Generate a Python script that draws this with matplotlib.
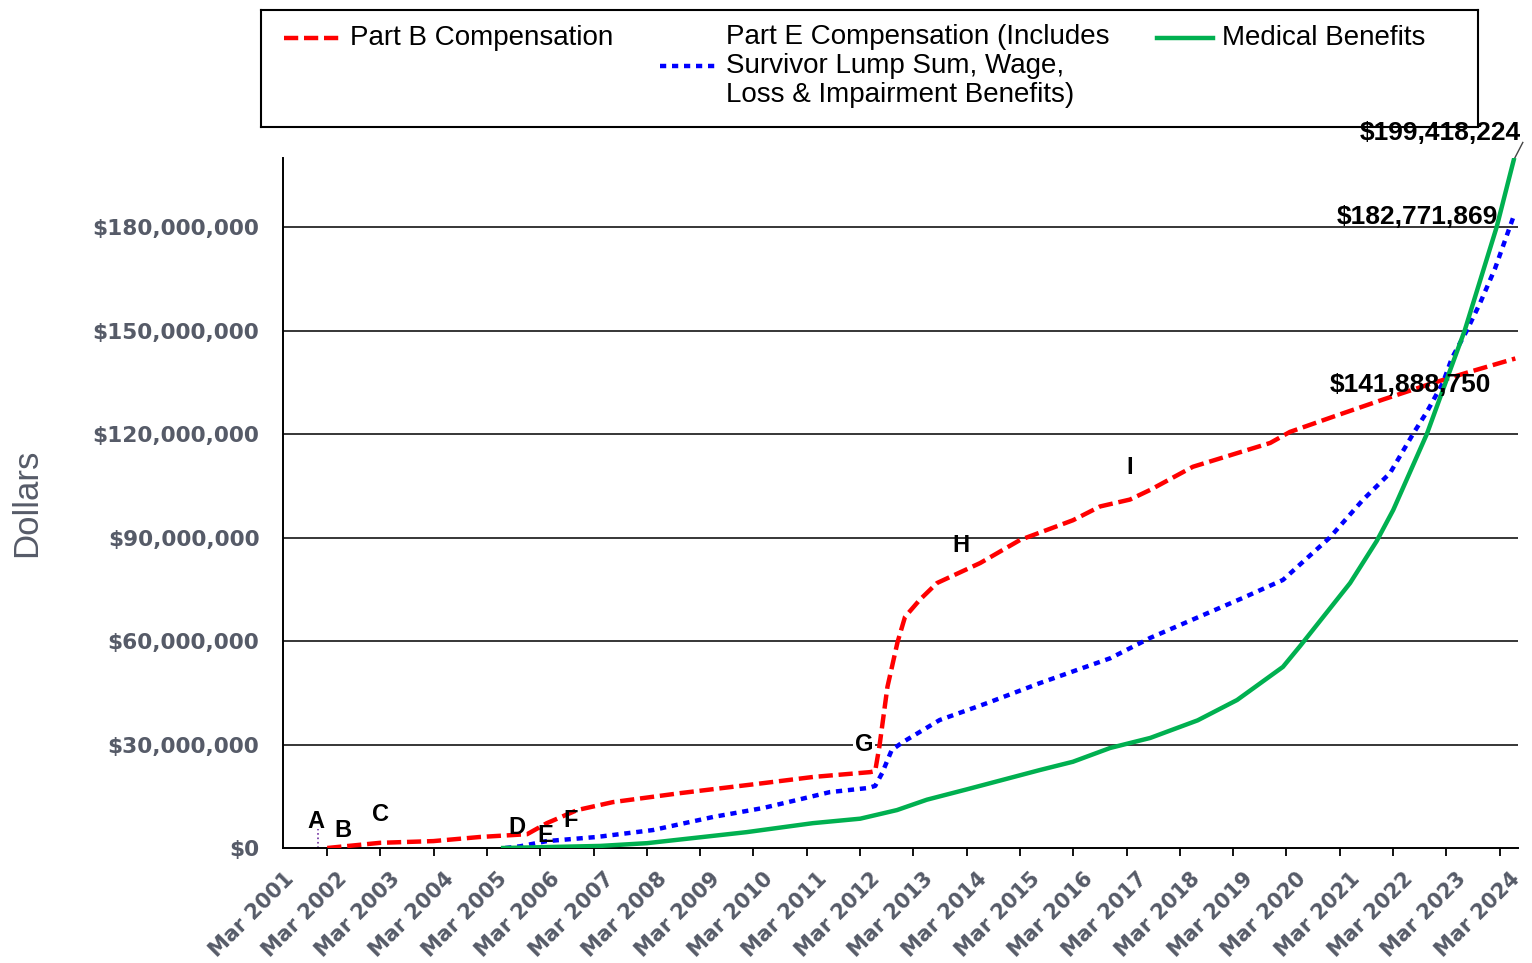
import numpy as np
import matplotlib
matplotlib.use("Agg")
import matplotlib.pyplot as plt

# x values are decimal years, y values are millions of dollars
part_b_x = [2002.17, 2002.50, 2003.16, 2004.16, 2005.04, 2005.92, 2006.29, 2006.86, 2007.53,
            2008.79, 2010.35, 2011.29, 2012.36, 2012.45, 2012.53, 2012.68, 2012.87, 2013.01,
            2013.29, 2013.61, 2014.42, 2015.17, 2016.16, 2016.67, 2017.23, 2017.61, 2018.41,
            2019.86, 2020.23, 2021.04, 2021.98, 2022.92, 2023.60, 2024.46]
part_b_y = [0.0, 0.5, 1.5, 2.0, 3.2, 4.0, 7.2, 11.0, 13.3,
            15.9, 18.8, 20.6, 22.0, 22.3, 29.5, 46.7, 59.7, 67.0,
            72.0, 76.8, 82.6, 89.3, 95.0, 99.0, 101.0, 103.8, 110.5,
            117.4, 120.6, 125.0, 130.0, 134.8, 138.0, 141.88875]

part_e_x = [2005.51, 2005.79, 2006.29, 2007.23, 2008.28, 2009.41, 2010.35, 2010.98, 2011.60,
            2012.32, 2012.45, 2012.58, 2012.76, 2012.97, 2013.66, 2014.55, 2015.54, 2016.86,
            2017.61, 2019.35, 2020.10, 2020.98, 2021.60, 2022.11, 2022.54, 2022.80, 2023.10,
            2023.27, 2023.55, 2023.80, 2024.08, 2024.42]
part_e_y = [0.0, 0.5, 2.0, 3.2, 5.2, 9.0, 11.6, 13.9, 16.2,
            17.4, 18.0, 21.7, 28.4, 30.7, 37.1, 42.0, 47.8, 55.0,
            60.9, 72.5, 77.7, 90.0, 100.9, 108.7, 120.0, 126.4, 134.8,
            142.0, 150.0, 158.0, 168.0, 182.771869]

medical_x = [2005.47, 2007.29, 2008.17, 2010.04, 2011.28, 2012.17, 2012.86, 2013.42, 2014.17,
             2015.54, 2016.16, 2016.86, 2017.61, 2018.50, 2019.24, 2020.10, 2020.42, 2021.36,
             2021.86, 2022.17, 2022.80, 2023.17, 2023.51, 2024.11, 2024.43]
medical_y = [0.0, 0.6, 1.4, 4.6, 7.2, 8.5, 11.0, 14.0, 17.0,
             22.6, 25.0, 29.0, 31.9, 37.0, 42.9, 52.5, 58.5, 76.8,
             89.0, 98.0, 120.0, 135.7, 150.0, 180.0, 199.418224]

years = list(range(2001, 2025))
y_ticks = [0, 30, 60, 90, 120, 150, 180]

# event letters (x year, y millions)
events = [("A", 2001.96, 7.8), ("B", 2002.47, 5.2), ("C", 2003.16, 9.6),
          ("D", 2005.73, 5.8), ("E", 2006.26, 3.5), ("F", 2006.73, 8.1),
          ("G", 2012.24, 30.1), ("H", 2014.06, 87.8), ("I", 2017.23, 110.2)]

gray = "#565b68"
fig = plt.figure(figsize=(15.32, 9.63), dpi=100)
ax = fig.add_axes([283/1532, 1-848/963, 1235/1532, 690/963])

ax.plot(part_b_x, part_b_y, color="#ff0000", lw=3.2, ls=(0, (3.2, 1.3)), zorder=3)
ax.plot(part_e_x, part_e_y, color="#0000ff", lw=3.2, ls=(0, (1.4, 1.3)), zorder=3)
ax.plot(medical_x, medical_y, color="#00b050", lw=3.2, zorder=4)

ax.set_xlim(2001.34, 2024.51)
ax.set_ylim(0, 200)

for y in y_ticks[1:]:
    ax.axhline(y, color="black", lw=1.1, zorder=1)

ax.spines["top"].set_visible(False)
ax.spines["right"].set_visible(False)
ax.spines["left"].set_linewidth(1.4)
ax.spines["bottom"].set_linewidth(1.4)

ax.set_yticks(y_ticks)
ax.set_yticklabels(["$%s" % format(v * 1000000, ",") for v in y_ticks],
                   fontfamily="DejaVu Sans", fontweight="bold", fontsize=15.6, color=gray)
ax.tick_params(axis="y", length=0, pad=17)

tick_x = [y + 2/12 for y in years]
ax.set_xticks(tick_x[1:])
ax.set_xticklabels([])
ax.tick_params(axis="x", length=6, width=1.3, direction="out", color="black")
for y, tx in zip(years, tick_x):
    ax.annotate("Mar %d" % y, xy=(tx, 0), xycoords=("data", "axes fraction"),
                xytext=(7, -15), textcoords="offset points", rotation=45,
                rotation_mode="anchor", ha="right", va="top",
                fontfamily="DejaVu Sans", fontweight="bold", fontsize=15, color=gray,
                annotation_clip=False)

fig.text(27/1532, 1-503/963, "Dollars", rotation=90, ha="center", va="center",
         fontfamily=["Liberation Sans Narrow", "Liberation Sans"], fontsize=25, color=gray)

for lab, ex, ey in events:
    t = ax.text(ex, ey, lab, ha="center", va="center", fontfamily="Liberation Sans",
                fontweight="bold", fontsize=17, color="black", zorder=5)
    if lab == "G":
        t.set_bbox(dict(facecolor="white", edgecolor="none", pad=1))
ax.plot([2002.0, 2002.0], [0, 5.5], color="#7030a0", lw=1.2, ls=":", zorder=2)

val_font = dict(fontfamily="Liberation Sans", fontweight="bold", fontsize=19, color="black")
ax.text(2023.05, 207.3, "$%s" % format(round(medical_y[-1] * 1e6), ","), ha="center", va="center",
        clip_on=False, zorder=6, **val_font)
ax.plot([medical_x[-1], medical_x[-1] + 0.17], [medical_y[-1], 204.5], color="#444444",
        lw=1.0, clip_on=False)
ax.text(2022.62, 182.9, "$%s" % format(round(part_e_y[-1] * 1e6), ","), ha="center", va="center",
        zorder=6, **val_font)
ax.text(2022.49, 134.2, "$%s" % format(round(part_b_y[-1] * 1e6), ","), ha="center", va="center",
        zorder=6, **val_font)

# legend box
lg = fig.add_axes([261/1532, 1-127/963, 1217/1532, 117/963])
lg.set_facecolor("none")
lg.set_xlim(261, 1478)
lg.set_ylim(127, 10)
lg.set_xticks([])
lg.set_yticks([])
for s in lg.spines.values():
    s.set_linewidth(1.5)
lg_font = dict(fontfamily="Liberation Sans", fontsize=20, color="black", va="center", ha="left")
lg.plot([284, 340], [38, 38], color="#ff0000", lw=3.2, ls=(0, (3.2, 1.3)))
lg.text(350, 38, "Part B Compensation", **lg_font)
lg.plot([660, 716], [66, 66], color="#0000ff", lw=3.2, ls=(0, (1.4, 1.3)))
lg.text(726, 37, "Part E Compensation (Includes", **lg_font)
lg.text(726, 66, "Survivor Lump Sum, Wage,", **lg_font)
lg.text(726, 95, "Loss & Impairment Benefits)", **lg_font)
lg.plot([1157, 1213], [38, 38], color="#00b050", lw=3.2)
lg.text(1222, 38, "Medical Benefits", **lg_font)

fig.savefig("out.png", dpi=100)
